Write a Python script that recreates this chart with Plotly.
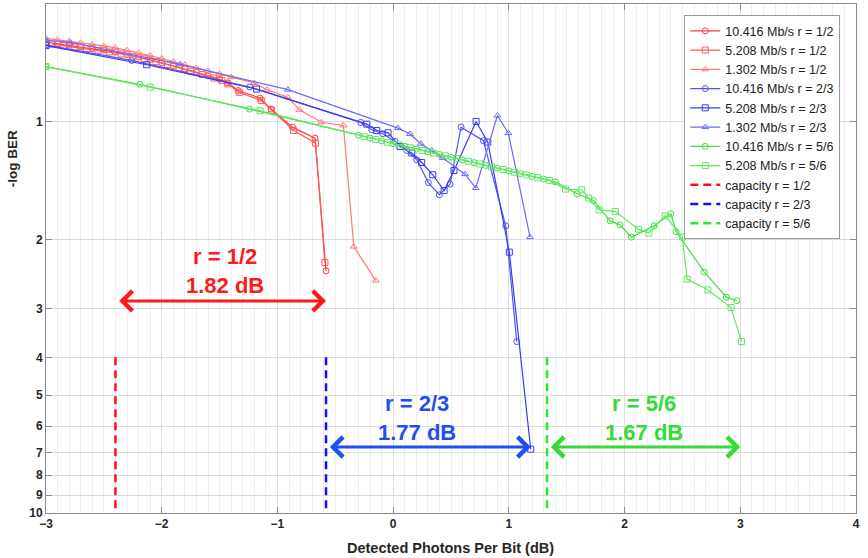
import numpy as np
import plotly.graph_objects as go

# ---------------- data ----------------
# rate 1/2
r12_10416_x = [-3.0, -2.9, -2.8, -2.7, -2.6, -2.5, -2.4, -2.3, -2.2, -2.1, -2.0, -1.9, -1.8, -1.7, -1.6, -1.5,
               -1.43, -1.34, -1.15, -1.055, -0.87, -0.675, -0.58]
r12_10416_y = [0.626, 0.632, 0.637, 0.643, 0.650, 0.656, 0.664, 0.673, 0.683, 0.694, 0.707, 0.719, 0.733, 0.747,
               0.763, 0.778, 0.795, 0.832, 0.870, 0.928, 1.032, 1.101, 2.405]

r12_5208_x = [-2.95, -2.85, -2.75, -2.65, -2.55, -2.45, -2.35, -2.25, -2.15, -2.05, -1.95, -1.85, -1.75, -1.65,
              -1.55, -1.48, -1.43, -1.33, -1.14, -1.05, -0.86, -0.67, -0.59]
r12_5208_y = [0.633, 0.639, 0.644, 0.650, 0.657, 0.663, 0.671, 0.680, 0.690, 0.702, 0.714, 0.728, 0.742, 0.757,
              0.773, 0.784, 0.800, 0.841, 0.882, 0.935, 1.053, 1.134, 2.290]

r12_1302_x = [-3.0, -2.9, -2.8, -2.7, -2.6, -2.5, -2.4, -2.3, -2.2, -2.1, -2.0, -1.9, -1.8, -1.7, -1.6, -1.5,
              -1.4, -1.2, -1.09, -0.91, -0.81, -0.62, -0.43, -0.34, -0.15]
r12_1302_y = [0.612, 0.617, 0.622, 0.628, 0.634, 0.640, 0.647, 0.656, 0.666, 0.677, 0.689, 0.702, 0.715, 0.728,
              0.741, 0.754, 0.769, 0.796, 0.828, 0.866, 0.932, 1.003, 1.022, 2.085, 2.547]

# rate 2/3
r23_10416_x = [-3.0, -2.26, -1.24, -0.28, -0.185, -0.09, 0.016, 0.118, 0.204, 0.304, 0.399, 0.492, 0.587,
               0.78, 0.973, 1.068]
r23_10416_y = [0.636, 0.697, 0.815, 1.004, 1.048, 1.073, 1.123, 1.184, 1.251, 1.430, 1.537, 1.443, 1.032,
               1.118, 1.845, 3.646]

r23_5208_x = [-3.0, -2.13, -1.18, -0.228, -0.142, -0.044, 0.060, 0.161, 0.247, 0.342, 0.440, 0.526, 0.717,
              0.818, 1.004, 1.189]
r23_5208_y = [0.639, 0.715, 0.825, 1.014, 1.053, 1.067, 1.157, 1.202, 1.271, 1.366, 1.499, 1.332, 0.998,
              1.127, 2.154, 6.87]

r23_1302_x = [-3.0, -2.79, -1.84, -0.91, 0.042, 0.146, 0.239, 0.334, 0.429, 0.621, 0.714, 0.901, 0.996, 1.183]
r23_1302_y = [0.619, 0.627, 0.713, 0.828, 1.038, 1.075, 1.138, 1.184, 1.238, 1.361, 1.477, 0.964, 1.069, 1.972]

# rate 5/6
r56_10416_x = [-3.0, -2.19, -1.24, -0.3, -0.2, -0.1, 0.0, 0.1, 0.2, 0.3, 0.4, 0.5, 0.6, 0.7, 0.8, 0.9, 1.0,
               1.1, 1.2, 1.3, 1.4, 1.59, 1.73, 1.875, 1.96, 2.06, 2.255, 2.40, 2.445, 2.69, 2.88, 2.97]
r56_10416_y = [0.723, 0.802, 0.928, 1.083, 1.101, 1.119, 1.137, 1.155, 1.174, 1.193, 1.212, 1.232, 1.252,
               1.272, 1.293, 1.314, 1.335, 1.357, 1.379, 1.401, 1.424, 1.528, 1.589, 1.792, 1.834, 1.972,
               1.845, 1.719, 1.908, 2.424, 2.807, 2.864]

r56_5208_x = [-3.0, -2.10, -1.15, -0.25, -0.15, -0.05, 0.05, 0.15, 0.25, 0.35, 0.45, 0.55, 0.65, 0.75, 0.85,
              0.95, 1.05, 1.15, 1.25, 1.35, 1.49, 1.63, 1.69, 1.78, 1.92, 2.12, 2.21, 2.35, 2.50, 2.54, 2.72,
              2.92, 3.01]
r56_5208_y = [0.723, 0.816, 0.937, 1.092, 1.110, 1.128, 1.146, 1.165, 1.184, 1.203, 1.222, 1.242, 1.262,
              1.282, 1.303, 1.324, 1.346, 1.367, 1.390, 1.412, 1.486, 1.492, 1.567, 1.680, 1.696, 1.881,
              1.926, 1.739, 1.972, 2.525, 2.690, 2.985, 3.646]

# capacity limits (dB) and gaps
capacity_x = [-2.40, -0.58, 1.33]
capacity_y = [4, 10]
capacity_names = ["capacity r = 1/2", "capacity r = 2/3", "capacity r = 5/6"]
gap_db = [1.82, 1.77, 1.67]
gap_labels = ["r = 1/2<br>1.82 dB", "r = 2/3<br>1.77 dB", "r = 5/6<br>1.67 dB"]
arrow_y = [2.87, 6.78, 6.78]
label_x = [-1.45, 0.21, 2.17]
label_y = [2.40, 5.71, 5.71]

y_ticks = [1, 2, 3, 4, 5, 6, 7, 8, 9, 10]

# ---------------- figure ----------------
FONT = "Liberation Sans"
fig = go.Figure()

series = [
    ("10.416 Mb/s r = 1/2", r12_10416_x, r12_10416_y, "#ff3b3b", "circle-open"),
    ("5.208 Mb/s r = 1/2", r12_5208_x, r12_5208_y, "#ff5a5a", "square-open"),
    ("1.302 Mb/s r = 1/2", r12_1302_x, r12_1302_y, "#ff7878", "triangle-up-open"),
    ("10.416 Mb/s r = 2/3", r23_10416_x, r23_10416_y, "#5050ff", "circle-open"),
    ("5.208 Mb/s r = 2/3", r23_5208_x, r23_5208_y, "#3a3af0", "square-open"),
    ("1.302 Mb/s r = 2/3", r23_1302_x, r23_1302_y, "#6a6aff", "triangle-up-open"),
    ("10.416 Mb/s r = 5/6", r56_10416_x, r56_10416_y, "#3ee03e", "circle-open"),
    ("5.208 Mb/s r = 5/6", r56_5208_x, r56_5208_y, "#62e862", "square-open"),
]
for name, xs, ys, col, sym in series:
    fig.add_trace(go.Scatter(x=xs, y=ys, name=name, mode="lines+markers",
                             line=dict(color=col, width=1.2),
                             marker=dict(symbol=sym, size=6, color=col, line=dict(width=1, color=col))))

cap_colors = ["#ff1010", "#1010ff", "#22ee22"]
for cx, nm, col in zip(capacity_x, capacity_names, cap_colors):
    fig.add_trace(go.Scatter(x=[cx, cx], y=capacity_y, name=nm, mode="lines",
                             line=dict(color=col, width=2.5, dash="8px,5px")))

txt_colors = ["#ff1a1a", "#1f4ff0", "#33dd33"]
for cx, g, lab, ay, lx, ly, col in zip(capacity_x, gap_db, gap_labels, arrow_y, label_x, label_y, txt_colors):
    fig.add_annotation(x=cx + g, y=np.log10(ay), ax=cx + 0.02, ay=np.log10(ay),
                       xref="x", yref="y", axref="x", ayref="y", text="",
                       showarrow=True, arrowhead=4, startarrowhead=4, arrowside="end+start",
                       arrowsize=1.3, startarrowsize=1.3, arrowwidth=3, arrowcolor=col,
                       standoff=0, startstandoff=0)
    fig.add_annotation(x=lx, y=np.log10(ly), xref="x", yref="y", text=lab, showarrow=False,
                       font=dict(family=FONT, size=22, color=col, weight="bold"), align="center")

fig.add_annotation(text="Detected Photons Per Bit (dB)", xref="paper", yref="paper", x=0.499, y=-0.0688,
                   showarrow=False, yanchor="middle",
                   font=dict(family=FONT, size=14.5, color="#262626", weight="bold"))
fig.add_annotation(text="-log BER", xref="paper", yref="paper", x=-0.042, y=0.697, textangle=-90,
                   showarrow=False, xanchor="center", yanchor="middle",
                   font=dict(family=FONT, size=13.5, color="#262626", weight="bold"))

tickfont = dict(family=FONT, size=12, color="#262626", weight="bold")
fig.update_xaxes(range=[-3, 4], tick0=-3, dtick=1, showgrid=True, gridcolor="#dcdcdc", gridwidth=1,
                 minor=dict(dtick=0.1, showgrid=True, gridcolor="#efefef", ticks=""),
                 showline=True, linecolor="#8a8a8a", linewidth=1, mirror="ticks",
                 ticks="inside", ticklen=6, tickcolor="#8a8a8a", zeroline=False, tickfont=tickfont,
                 automargin=False)
fig.update_yaxes(type="log", range=[1, np.log10(0.5)], tickvals=y_ticks, ticktext=[str(v) for v in y_ticks],
                 showgrid=True, gridcolor="#dcdcdc", gridwidth=1,
                 showline=True, linecolor="#8a8a8a", linewidth=1, mirror="ticks",
                 ticks="inside", ticklen=6, tickcolor="#8a8a8a", zeroline=False, tickfont=tickfont,
                 automargin=False)

fig.update_layout(width=868, height=558, margin=dict(l=46, r=12, t=4, b=45),
                  paper_bgcolor="white", plot_bgcolor="white", showlegend=True,
                  legend=dict(x=0.788, y=0.978, xanchor="left", yanchor="top",
                              bgcolor="white", bordercolor="#9a9a9a", borderwidth=1,
                              font=dict(family=FONT, size=12.5, color="#202020"),
                              itemwidth=30, tracegroupgap=0))

fig.write_html("out.html", config={"displayModeBar": False},
               post_script="document.body.style.margin='0';")
